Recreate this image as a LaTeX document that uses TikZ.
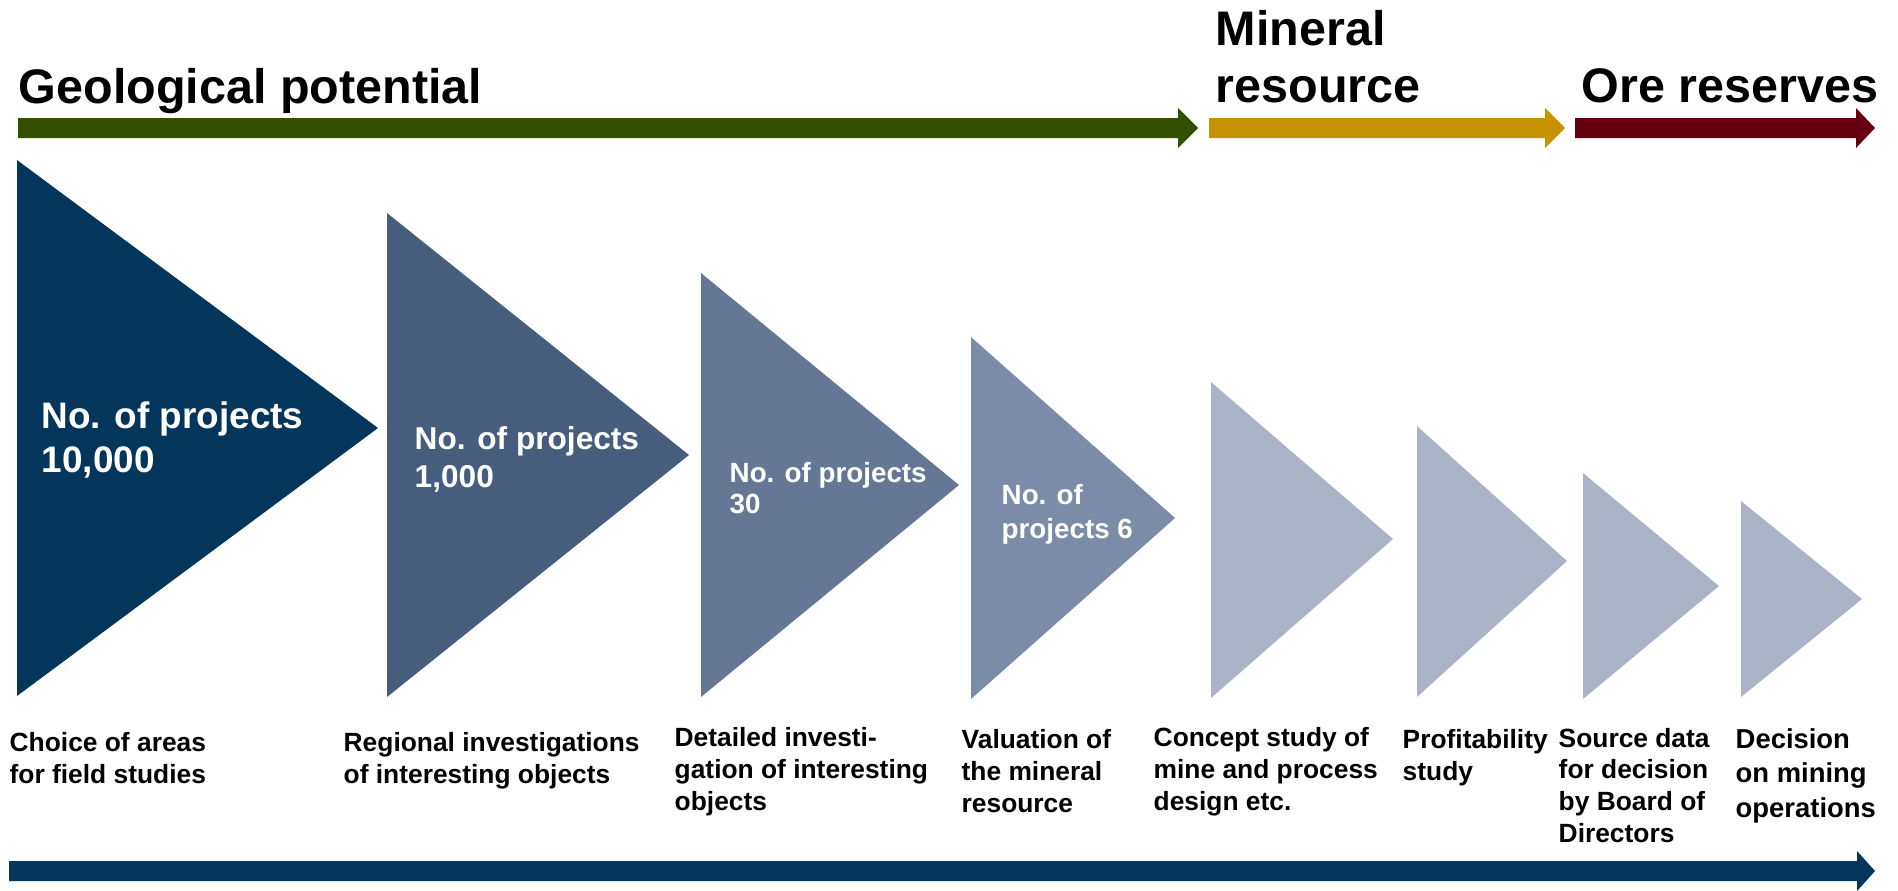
\documentclass[tikz,border=0pt]{standalone}
\usepackage{fontspec}
\setmainfont{Liberation Sans}
\usepackage{tikz}
\definecolor{navy}{HTML}{03365A}
\definecolor{slateA}{HTML}{465D7E}
\definecolor{slateB}{HTML}{657795}
\definecolor{slateC}{HTML}{7C8BA8}
\definecolor{pale}{HTML}{ABB4C7}
\definecolor{geogreen}{HTML}{335000}
\definecolor{resgold}{HTML}{C89100}
\definecolor{oremaroon}{HTML}{660011}
\tikzset{
    phase/.style={anchor=base west, inner sep=0pt, align=left, font=\fontsize{13.8}{16.2}\selectfont\bfseries},
    stage/.style={anchor=base west, inner sep=0pt, align=left, font=\fontsize{7.5}{9}\selectfont\bfseries},
    count/.style={anchor=base west, inner sep=0pt, align=left, text=white}
}
\begin{document}
\begin{tikzpicture}[x=0.1mm, y=-0.1mm]
        \useasboundingbox (0, 0) rectangle (1898, 890);
        \fill[geogreen] (18, 118) -- (1178, 118) -- (1178, 108) -- (1198, 128) -- (1178, 148) -- (1178, 138) -- (18, 138) -- cycle;
        \fill[resgold] (1209, 118) -- (1545, 118) -- (1545, 108) -- (1565, 128) -- (1545, 148) -- (1545, 138) -- (1209, 138) -- cycle;
        \fill[oremaroon] (1575, 118) -- (1856, 118) -- (1856, 108) -- (1875, 128) -- (1856, 148) -- (1856, 138) -- (1575, 138) -- cycle;
        \fill[navy] (9, 861) -- (1857, 861) -- (1857, 851) -- (1875, 871) -- (1857, 891) -- (1857, 881) -- (9, 881) -- cycle;
        \fill[navy] (17, 160) -- (378, 428) -- (17, 696) -- cycle;
        \fill[slateA] (387, 213) -- (689, 455) -- (387, 697) -- cycle;
        \fill[slateB] (701, 273) -- (959, 485) -- (701, 697) -- cycle;
        \fill[slateC] (971, 337) -- (1175, 518) -- (971, 699) -- cycle;
        \fill[pale] (1211, 382) -- (1393, 539) -- (1211, 698) -- cycle;
        \fill[pale] (1417, 426) -- (1567, 561) -- (1417, 697) -- cycle;
        \fill[pale] (1583, 473) -- (1719, 586) -- (1583, 699) -- cycle;
        \fill[pale] (1741, 501) -- (1862, 599) -- (1741, 697) -- cycle;
        \node[phase] (Geological) at (18, 103) {Geological potential};
        \node[phase] (Mineral) at (1215, 102) {Mineral\\resource};
        \node[phase] (Ore) at (1581, 102) {Ore reserves};
        \node[count, font=\fontsize{10.5}{12.5}\selectfont\bfseries] (Projects 10000) at (41, 472) {No. of projects\\10,000};
        \node[count, font=\fontsize{9}{10.8}\selectfont\bfseries] (Projects 1000) at (414, 487) {No. of projects\\1,000};
        \node[count, font=\fontsize{7.9}{8.8}\selectfont\bfseries] (Projects 30) at (729, 513) {No. of projects\\30};
        \node[count, font=\fontsize{7.9}{9.4}\selectfont\bfseries] (Projects 6) at (1001, 538) {No. of\\projects 6};
        \node[stage] (Choice) at (9, 783) {Choice of areas\\for field studies};
        \node[stage] (Regional) at (343, 783) {Regional investigations\\of interesting objects};
        \node[stage] (Detailed) at (674, 810) {Detailed investi-\\gation of interesting\\objects};
        \node[stage] (Valuation) at (961, 812) {Valuation of\\the mineral\\resource};
        \node[stage] (Concept) at (1153, 810) {Concept study of\\mine and process\\design etc.};
        \node[stage] (Profitability) at (1402, 780) {Profitability\\study};
        \node[stage] (Source) at (1558, 842) {Source data\\for decision\\by Board of\\Directors};
        \node[stage, font=\fontsize{7.8}{9.8}\selectfont\bfseries] (Decision) at (1735, 817) {Decision\\on mining\\operations};
    \end{tikzpicture}
\end{document}
